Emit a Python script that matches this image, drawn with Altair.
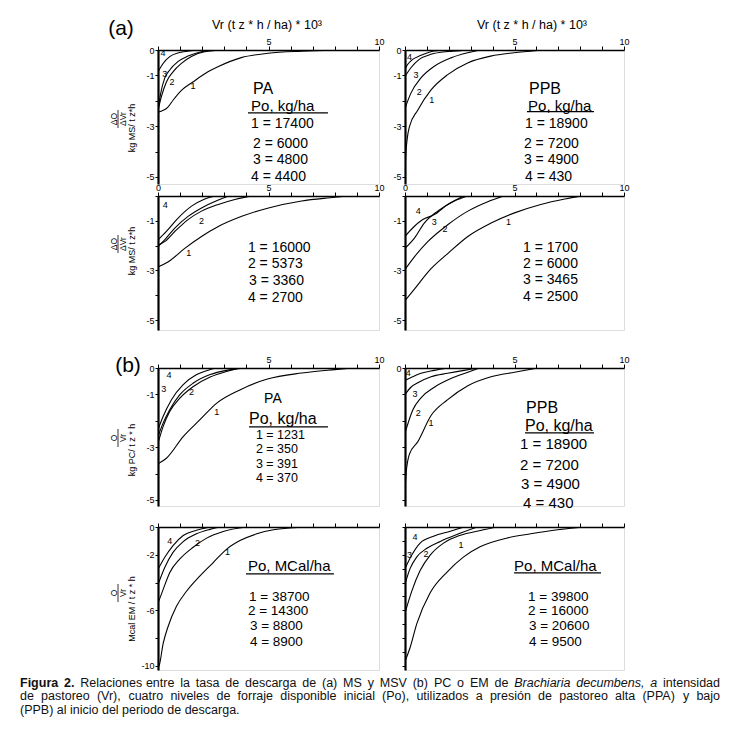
import altair as alt
import pandas as pd

FN = "Liberation Sans, Arial, sans-serif"
FR = "Liberation Sans, Arial, sans-serif"

XTITLE = "Vr (t z * h / ha) * 10\u00b3"

# ---------------- curve data ----------------
# (a) PA, MS
A1_C1_X = [0, 0.45, 0.68, 1.06, 1.58, 2.26, 2.71, 3.77, 4.98, 6.5, 8.0]
A1_C1_Y = [-2.45, -2.25, -1.98, -1.59, -1.26, -0.86, -0.66, -0.30, -0.13, -0.05, -0.01]
A1_C2_X = [0, 0.15, 0.38, 0.68, 1.06, 1.51, 2.11, 3.0]
A1_C2_Y = [-2.38, -1.85, -1.26, -0.86, -0.53, -0.26, -0.07, 0]
A1_C3_X = [0, 0.12, 0.3, 0.53, 0.9, 1.36, 1.96, 2.4]
A1_C3_Y = [-2.38, -1.72, -1.12, -0.79, -0.46, -0.24, -0.07, 0]
A1_C4_X = [0, 0.23, 0.53, 0.98, 1.5, 2.0]
A1_C4_Y = [-0.86, -0.53, -0.26, -0.10, -0.03, 0]

# (a) PPB, MS
A2_C1_X = [0, 0.03, 0.1, 0.2, 0.58, 1.19, 1.95, 2.86, 3.92, 4.98, 6.05]
A2_C1_Y = [-4.8, -4.2, -3.5, -3.03, -2.37, -1.57, -0.97, -0.51, -0.24, -0.11, -0.02]
A2_C2_X = [0, 0.27, 0.73, 1.34, 2.1, 2.86, 3.47]
A2_C2_Y = [-2.3, -1.7, -1.1, -0.64, -0.31, -0.11, 0]
A2_C3_X = [0, 0.27, 0.65, 1.19, 1.95, 2.6, 3.3]
A2_C3_Y = [-1.04, -0.7, -0.37, -0.17, -0.06, -0.02, 0]
A2_C4_X = [0, 0.12, 0.35, 0.73, 1.34, 1.95]
A2_C4_Y = [-0.75, -0.57, -0.37, -0.21, -0.04, 0]

# (a) PA, MSV
A3_C1_X = [0, 0.45, 1.21, 1.97, 2.73, 3.79, 5.0, 6.5, 8.0, 8.5]
A3_C1_Y = [-2.86, -2.66, -2.11, -1.63, -1.23, -0.82, -0.48, -0.2, -0.05, 0]
A3_C2_X = [0, 0.3, 0.76, 1.36, 1.97, 2.73, 3.48, 4.24]
A3_C2_Y = [-1.98, -1.84, -1.43, -0.95, -0.61, -0.34, -0.14, 0]
A3_C3_X = [0, 0.3, 0.76, 1.36, 1.97, 2.73, 3.2]
A3_C3_Y = [-2.04, -1.77, -1.29, -0.82, -0.48, -0.16, 0]
A3_C4_X = [0, 0.38, 0.91, 1.52, 2.12, 2.58]
A3_C4_Y = [-1.77, -1.43, -0.89, -0.41, -0.12, 0]

# (a) PPB, MSV
A4_C1_X = [0, 0.43, 1.19, 1.95, 2.87, 3.93, 5.0, 6.2, 7.3, 8.05]
A4_C1_Y = [-4.22, -3.75, -2.93, -2.32, -1.63, -1.09, -0.68, -0.34, -0.12, 0]
A4_C2_X = [0, 0.43, 1.04, 1.95, 2.87, 3.78, 4.5]
A4_C2_Y = [-2.96, -2.45, -1.84, -1.16, -0.61, -0.23, 0]
A4_C3_X = [0, 0.43, 0.88, 1.49, 2.26, 2.87]
A4_C3_Y = [-2.11, -1.7, -1.09, -0.61, -0.2, 0]
A4_C4_X = [0, 0.35, 0.81, 1.34, 1.95, 2.7]
A4_C4_Y = [-1.63, -1.29, -0.95, -0.75, -0.34, 0]

# (b) PA, PC
B1_C1_X = [0, 0.38, 1.14, 1.9, 2.66, 3.73, 4.95, 6.5, 8.0, 8.8]
B1_C1_Y = [-3.63, -3.42, -2.6, -1.96, -1.33, -0.82, -0.42, -0.19, -0.06, 0]
B1_C2_X = [0, 0.23, 0.53, 0.99, 1.6, 2.36, 3.1, 4.03]
B1_C2_Y = [-2.6, -2.09, -1.58, -1.01, -0.57, -0.25, -0.09, 0]
B1_C3_X = [0, 0.23, 0.53, 0.99, 1.6, 2.36, 3.1, 3.74]
B1_C3_Y = [-2.85, -2.22, -1.65, -1.14, -0.7, -0.34, -0.13, 0]
B1_C4_X = [0, 0.23, 0.61, 1.14, 1.75, 2.36, 2.66]
B1_C4_Y = [-2.34, -1.84, -1.2, -0.63, -0.25, -0.06, 0]

# (b) PPB, PC
B2_C1_X = [0, 0.05, 0.2, 0.58, 1.19, 1.95, 2.87, 3.93, 5.0, 6.07]
B2_C1_Y = [-4.7, -4.0, -3.27, -2.8, -1.8, -1.2, -0.67, -0.33, -0.16, 0]
B2_C2_X = [0, 0.35, 0.73, 1.34, 2.1, 2.87, 3.4]
B2_C2_Y = [-2.47, -1.6, -1.13, -0.73, -0.4, -0.16, 0]
B2_C3_X = [0, 0.27, 0.65, 1.19, 1.95, 2.7, 3.4]
B2_C3_Y = [-1.0, -0.73, -0.53, -0.33, -0.2, -0.09, 0]
B2_C4_X = [0, 0.35, 0.73, 1.34, 1.95]
B2_C4_Y = [-0.47, -0.33, -0.2, -0.09, 0]

# (b) PA, EM
B3_C1_X = [0, 0.05, 0.23, 0.45, 0.83, 1.29, 1.89, 2.5, 3.11, 3.71, 4.47, 5.23, 6.14, 7.0]
B3_C1_Y = [-10.1, -10.0, -8.41, -7.2, -5.73, -4.63, -3.54, -2.56, -1.59, -0.98, -0.49, -0.2, -0.05, 0]
B3_C2_X = [0, 0.23, 0.53, 0.98, 1.59, 2.2, 2.95, 4.0]
B3_C2_Y = [-5.49, -4.51, -3.29, -2.32, -1.46, -0.8, -0.32, 0]
B3_C3_X = [0, 0.3, 0.68, 1.14, 1.74, 2.35, 2.8]
B3_C3_Y = [-4.15, -2.93, -1.83, -1.05, -0.49, -0.17, 0]
B3_C4_X = [0, 0.3, 0.68, 1.14, 1.74, 2.35]
B3_C4_Y = [-3.05, -2.2, -1.34, -0.61, -0.24, 0]

# (b) PPB, EM
B4_C1_X = [0, 0.23, 0.54, 1.15, 1.91, 2.68, 3.45, 4.67, 5.74, 6.97, 8.2]
B4_C1_Y = [-9.68, -8.7, -6.96, -4.74, -3.26, -2.15, -1.41, -0.79, -0.49, -0.2, 0]
B4_C2_X = [0, 0.31, 0.69, 1.15, 1.76, 2.53, 3.45, 4.2]
B4_C2_Y = [-6.2, -4.62, -3.14, -2.02, -1.16, -0.59, -0.25, 0]
B4_C3_X = [0, 0.23, 0.54, 1.0, 1.61, 2.37, 3.3]
B4_C3_Y = [-4.12, -3.0, -2.15, -1.53, -1.04, -0.54, 0]
B4_C4_X = [0, 0.31, 0.69, 1.3, 2.07, 2.68]
B4_C4_Y = [-3.0, -2.02, -1.16, -0.67, -0.3, 0]

# initial available forage (legend values)
PO_A1 = [17400, 6000, 4800, 4400]
PO_A2 = [18900, 7200, 4900, 430]
PO_A3 = [16000, 5373, 3360, 2700]
PO_A4 = [1700, 6000, 3465, 2500]
PO_B1 = [1231, 350, 391, 370]
PO_B2 = [18900, 7200, 4900, 430]
PO_B3 = [38700, 14300, 8800, 8900]
PO_B4 = [39800, 16000, 20600, 9500]

# caption words (b = bold, i = italic, n = normal)
CAP_LINE1 = [("Figura", "b"), ("2.", "b"), ("Relaciones", "n"), ("entre", "n"), ("la", "n"),
             ("tasa", "n"), ("de", "n"), ("descarga", "n"), ("de", "n"), ("(a)", "n"),
             ("MS", "n"), ("y", "n"), ("MSV", "n"), ("(b)", "n"), ("PC", "n"), ("o", "n"),
             ("EM", "n"), ("de", "n"), ("Brachiaria", "i"), ("decumbens,", "i"), ("a", "i"),
             ("intensidad", "n")]
CAP_LINE2 = [("de", "n"), ("pastoreo", "n"), ("(Vr),", "n"), ("cuatro", "n"), ("niveles", "n"),
             ("de", "n"), ("forraje", "n"), ("disponible", "n"), ("inicial", "n"), ("(Po),", "n"),
             ("utilizados", "n"), ("a", "n"), ("presión", "n"), ("de", "n"), ("pastoreo", "n"),
             ("alta", "n"), ("(PPA)", "n"), ("y", "n"), ("bajo", "n")]
CAP_LINE3 = "(PPB) al inicio del periodo de descarga."

# Arial / Liberation Sans advance widths (1/1000 em)
_W = {" ": 278, "(": 333, ")": 333, ",": 278, ".": 278, "/": 278, "*": 389, "=": 584,
      "A": 667, "B": 667, "C": 722, "E": 667, "F": 611, "M": 833, "P": 667, "S": 667,
      "V": 667, "a": 556, "b": 556, "c": 500, "d": 556, "e": 556, "f": 278, "g": 556,
      "h": 556, "i": 222, "j": 222, "k": 500, "l": 222, "m": 833, "n": 556, "o": 556,
      "p": 556, "r": 333, "s": 500, "t": 278, "u": 556, "v": 500, "y": 500, "z": 500,
      "ó": 556}
_WB = {"F": 611, "i": 278, "g": 611, "u": 611, "r": 389, "a": 556, "2": 556, ".": 278}

ONE = pd.DataFrame({"k": [0]})


def note(text, x, y, size, font=FN, angle=0, align="center", weight="normal",
         style="normal", color="black"):
    return alt.Chart(ONE).mark_text(
        text=text, fontSize=size, font=font, angle=angle, align=align,
        baseline="middle", fontWeight=weight, fontStyle=style, color=color
    ).encode(x=alt.value(x), y=alt.value(y))


def text_w(word, size, bold):
    tab = _WB if bold else _W
    return sum(tab.get(c, _W.get(c, 556)) for c in word) / 1000.0 * size


def justified(words, y, size, x0, x1):
    widths = [text_w(w, size, s == "b") for w, s in words]
    gap = (x1 - x0 - sum(widths)) / (len(words) - 1)
    out, x = [], x0
    for (w, s), wd in zip(words, widths):
        out.append(note(w, round(x, 1), y, size, font=FR, align="left",
                        weight="bold" if s == "b" else "normal",
                        style="italic" if s == "i" else "normal",
                        color="#111111"))
        x += wd + gap
    return out


def vbar(x, y1, y2):
    return alt.Chart(ONE).mark_rule(color="black", strokeWidth=0.8).encode(
        x=alt.value(x), y=alt.value(y1), y2=alt.value(y2))


def yfrac(num, den, unit, yc_frac, yc_unit, x0=-44):
    return [
        note(num, x0, yc_frac, 8.5, font=FR, angle=270),
        vbar(x0 + 4, yc_frac - 9, yc_frac + 9),
        note(den, x0 + 8.5, yc_frac, 8.5, font=FR, angle=270),
        note(unit, x0 + 18, yc_unit, 9, angle=270),
    ]


def expr(vals):
    if not vals:
        return "''"
    cond = " || ".join(f"datum.value == {v}" for v in vals)
    return f"({cond}) ? toString(datum.value) : ''"


def make_panel(curves, clab, texts, uline, w, h, ymin, xlabs, yticks, ylabs, notes):
    xsc = alt.Scale(domain=[0, 10], nice=False, zero=False)
    ysc = alt.Scale(domain=[ymin, 0], nice=False, zero=False)
    X = alt.X("x:Q", scale=xsc, axis=alt.Axis(
        orient="top", values=list(range(11)), labelExpr=expr(xlabs), title=None,
        grid=False, domainColor="black", domainWidth=1.6, tickColor="black",
        tickSize=4, tickWidth=1, labelFont=FR, labelFontSize=9, labelColor="black",
        labelPadding=0, labelOverlap=False, labelFlush=False))
    Y = alt.Y("y:Q", scale=ysc, axis=alt.Axis(
        orient="left", values=yticks, labelExpr=expr(ylabs), title=None,
        grid=False, domainColor="black", domainWidth=2.2, tickColor="black",
        tickSize=3, tickWidth=1, labelFont=FR, labelFontSize=9, labelColor="black",
        labelPadding=1, labelOverlap=False, labelFlush=False))
    rows = []
    for k, (xs, ys) in enumerate(curves):
        for i, (a, b) in enumerate(zip(xs, ys)):
            rows.append(dict(x=a, y=b, c=str(k + 1), o=i))
    cdf = pd.DataFrame(rows)
    lines = alt.Chart(cdf).mark_line(
        color="black", strokeWidth=1.1, interpolate="monotone", clip=True
    ).encode(x=X, y=Y, detail="c:N", order="o:Q")
    ldf = pd.DataFrame([dict(t=t, x=a, y=b) for t, a, b in clab])
    labs = alt.Chart(ldf).mark_text(font=FR, fontSize=9, color="black").encode(
        x=X, y=Y, text="t:N")
    tdf = pd.DataFrame([dict(t=t, x=a, y=b, fs=f) for t, a, b, f in texts])
    txt = alt.Chart(tdf).mark_text(font=FN, align="left", baseline="middle",
                                   color="black").encode(
        x=X, y=Y, text="t:N", size=alt.Size("fs:Q", scale=None))
    layers = [lines, labs, txt]
    if uline:
        udf = pd.DataFrame([dict(x=uline[0], x2=uline[1], y=uline[2])])
        layers.append(alt.Chart(udf).mark_rule(color="black", strokeWidth=1.3).encode(
            x=X, x2="x2:Q", y=Y))
    layers += notes
    return alt.layer(*layers).properties(width=w, height=h)


def po_lines(vals, xs, ys, fs):
    return [(f"{i + 1} = {v}", xs[i], ys[i], fs) for i, v in enumerate(vals)]


def spacer(h):
    return alt.Chart(ONE).mark_text(text="", opacity=0).encode(
        x=alt.value(0), y=alt.value(0)).properties(
        width=200, height=h,
        view=alt.ViewBackground(stroke="transparent", fill="transparent"))


W1, W2 = 221, 219
H1, H2, H3, H4 = 134, 134, 138, 143
T5 = [0, -1, -2, -3, -4, -5]

a1 = make_panel(
    [(A1_C1_X, A1_C1_Y), (A1_C2_X, A1_C2_Y), (A1_C3_X, A1_C3_Y), (A1_C4_X, A1_C4_Y)],
    [("4", 0.23, -0.13), ("3", 0.3, -0.95), ("2", 0.63, -1.26), ("1", 1.58, -1.43)],
    [("PA", 4.30, -1.54, 16), ("Po, kg/ha", 4.21, -2.20, 15)]
    + po_lines(PO_A1, [4.21, 4.30, 4.30, 4.21], [-2.91, -3.70, -4.33, -5.0], 14),
    (4.07, 7.69, -2.48), W1, H1, -5.28, [5, 10], T5, [0, -1, -3, -5],
    [note("(a)", -37, -21, 21, font=FR), note(XTITLE, 109, -25, 12.5)]
    + yfrac("\u0394O", "\u0394Vr", "kg MS/ t z*h", 69, 78))

a2 = make_panel(
    [(A2_C1_X, A2_C1_Y), (A2_C2_X, A2_C2_Y), (A2_C3_X, A2_C3_Y), (A2_C4_X, A2_C4_Y)],
    [("4", 0.2, -0.27), ("3", 0.5, -0.97), ("2", 0.65, -1.64), ("1", 1.22, -1.97)],
    [("PPB", 5.66, -1.54, 16), ("Po, kg/ha", 5.62, -2.19, 15)]
    + po_lines(PO_A2, [5.48, 5.43, 5.43, 5.48], [-2.91, -3.70, -4.33, -5.0], 14),
    (5.57, 8.63, -2.43), W2, H1, -5.28, [5, 10], T5, [0, -1, -3, -5],
    [note(XTITLE, 127, -25, 12.5)])

a3 = make_panel(
    [(A3_C1_X, A3_C1_Y), (A3_C2_X, A3_C2_Y), (A3_C3_X, A3_C3_Y), (A3_C4_X, A3_C4_Y)],
    [("4", 0.33, -0.37), ("2", 1.97, -1.02), ("1", 1.39, -2.28)],
    po_lines(PO_A3, [4.07, 4.07, 4.12, 4.07], [-2.10, -2.74, -3.43, -4.11], 14),
    None, W1, H2, -5.4, [0, 5, 10], T5, [-1, -3, -5],
    yfrac("\u0394O", "\u0394Vr", "kg MS/ t z*h", 48, 55))

a4 = make_panel(
    [(A4_C1_X, A4_C1_Y), (A4_C2_X, A4_C2_Y), (A4_C3_X, A4_C3_Y), (A4_C4_X, A4_C4_Y)],
    [("4", 0.61, -0.59), ("3", 1.34, -1.05), ("2", 1.83, -1.32), ("1", 4.73, -1.05)],
    po_lines(PO_A4, [5.39, 5.39, 5.39, 5.39], [-2.10, -2.74, -3.39, -4.07], 14),
    None, W2, H2, -5.4, [0, 5, 10], T5, [-1, -3, -5], [])

b1 = make_panel(
    [(B1_C1_X, B1_C1_Y), (B1_C2_X, B1_C2_Y), (B1_C3_X, B1_C3_Y), (B1_C4_X, B1_C4_Y)],
    [("4", 0.5, -0.25), ("3", 0.26, -0.8), ("2", 1.52, -0.92), ("1", 2.66, -1.68)],
    [("PA", 4.8, -1.17, 14), ("Po, kg/ha", 4.12, -1.93, 16)]
    + po_lines(PO_B1, [4.43, 4.43, 4.43, 4.43], [-2.54, -3.07, -3.64, -4.17], 12.5),
    (4.12, 7.69, -2.23), W1, H3, -5.23, [5, 10], T5, [0, -1, -3, -5],
    [note("(b)", -30, -2, 21, font=FR)]
    + yfrac("O", "Vr", "kg  PC/ t z * h", 70, 82))

b2 = make_panel(
    [(B2_C1_X, B2_C1_Y), (B2_C2_X, B2_C2_Y), (B2_C3_X, B2_C3_Y), (B2_C4_X, B2_C4_Y)],
    [("4", 0.15, -0.2), ("3", 0.46, -0.97), ("2", 0.61, -1.69), ("1", 1.19, -2.07)],
    [("PPB", 5.53, -1.52, 16), ("Po, kg/ha", 5.48, -2.20, 16)]
    + po_lines(PO_B2, [5.25, 5.25, 5.30, 5.39], [-2.88, -3.67, -4.39, -5.1], 15),
    (5.48, 8.63, -2.46), W2, H3, -5.23, [5, 10], T5, [0], [])

CS = 12.5
CAP = (justified(CAP_LINE1, 155.5, CS, -138, 562)
       + justified(CAP_LINE2, 169, CS, -138, 562)
       + [note(CAP_LINE3, -138, 182.5, CS, font=FR, align="left", color="#111111")])

b3 = make_panel(
    [(B3_C1_X, B3_C1_Y), (B3_C2_X, B3_C2_Y), (B3_C3_X, B3_C3_Y), (B3_C4_X, B3_C4_Y)],
    [("4", 0.53, -1.02), ("2", 1.79, -1.17), ("1", 3.14, -1.78)],
    [("Po, MCal/ha", 4.07, -2.81, 15)]
    + po_lines(PO_B3, [4.12, 4.07, 4.16, 4.16], [-5.04, -6.04, -7.12, -8.27], 13.5),
    (3.98, 7.96, -3.38), W1, H4, -10.3, [], [0, -2, -4, -6, -8, -10], [0, -2, -6, -10],
    yfrac("O", "Vr", "Mcal EM / t z * h", 66, 82) + CAP)

b4 = make_panel(
    [(B4_C1_X, B4_C1_Y), (B4_C2_X, B4_C2_Y), (B4_C3_X, B4_C3_Y), (B4_C4_X, B4_C4_Y)],
    [("4", 0.46, -0.74), ("3", 0.2, -2.02), ("2", 0.96, -1.98), ("1", 2.56, -1.33)],
    [("Po, MCal/ha", 4.98, -2.81, 15)]
    + po_lines(PO_B4, [5.62, 5.62, 5.66, 5.66], [-5.04, -6.04, -7.12, -8.27], 13.5),
    (4.98, 8.95, -3.31), W2, H4, -10.3, [], list(range(0, -11, -1)), [], [])

chart = alt.concat(
    a1, a2,
    spacer(1), spacer(1),
    a3, a4,
    spacer(27), spacer(27),
    b1, b2,
    spacer(10), spacer(10),
    b3, b4,
    columns=2, spacing={"row": 5.5, "column": 26}, bounds="flush",
).properties(
    padding={"left": 11, "top": 9, "right": 5, "bottom": 5}
).configure_view(stroke=None).configure(background="white")

chart.save("out.html", embed_options={"renderer": "svg", "actions": False})
